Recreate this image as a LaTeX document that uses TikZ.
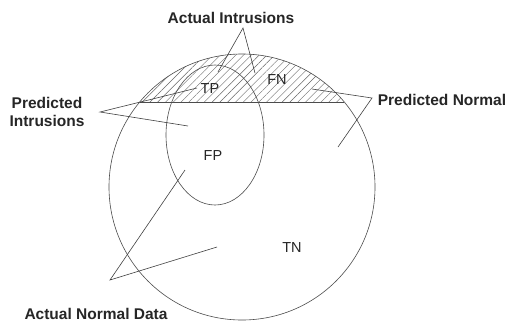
\documentclass[tikz,border=0pt]{standalone}
\usepackage{fontspec}
\setmainfont{Liberation Sans}
\usetikzlibrary{shapes.geometric,patterns.meta}
\begin{document}
\begin{tikzpicture}[x=1pt,y=-1pt,
  lbl/.style={font=\bfseries\fontsize{15.5}{18}\selectfont, text=black!85, inner sep=0pt, align=center},
  reg/.style={font=\fontsize{14.5}{16}\selectfont, text=black!85, inner sep=0pt},
  ln/.style={draw=black!70, line width=0.6pt},
  ptr/.style={draw=black!75, line width=0.6pt}]
\useasboundingbox (0,0) rectangle (508,322);
\fill[white] (0,0) rectangle (508,322);
% hatched top cap
\begin{scope}
  \clip (0,0) rectangle (508,102);
  \fill[pattern={Lines[angle=45,distance=5.5pt,line width=0.4pt]}, pattern color=black!60] (242,187) circle (133);
\end{scope}
\node[circle, ln, minimum size=266pt, inner sep=0pt, outer sep=0pt] (big) at (242,187) {};
\node[ellipse, ln, minimum width=98pt, minimum height=140pt, inner sep=0pt, outer sep=0pt] (pi) at (215,135) {};
\coordinate (chL) at (140,102);
\coordinate (chR) at (344,102);
\draw[ln] (chL) -- (chR);
% region labels
\node[reg] (tp) at (210,89) {TP};
\node[reg] (fn) at (277,80) {FN};
\node[reg] (fp) at (213,156) {FP};
\node[reg] (tn) at (292,248) {TN};
% outside labels
\node[lbl] (ai) at (231,18) {Actual Intrusions};
\node[lbl] (pin) at (47,112) {Predicted\\Intrusions};
\node[lbl] (pn) at (442,100) {Predicted Normal};
\node[lbl] (and) at (96,314) {Actual Normal Data};
% pointer lines
\coordinate (aiA) at (243,28);
\coordinate (ai1) at (218,72);
\coordinate (ai2) at (255,73);
\draw[ptr] (ai1) -- (aiA) -- (ai2);
\coordinate (piA) at (100,112);
\coordinate (pi1) at (197,88);
\coordinate (pi2) at (188,126);
\draw[ptr] (pi1) -- (piA) -- (pi2);
\coordinate (pnA) at (372,98);
\coordinate (pn1) at (312,89);
\coordinate (pn2) at (338,147);
\draw[ptr] (pn1) -- (pnA) -- (pn2);
\coordinate (anA) at (110,280);
\coordinate (an1) at (185,170);
\coordinate (an2) at (217,247);
\draw[ptr] (an1) -- (anA) -- (an2);
\end{tikzpicture}
\end{document}
